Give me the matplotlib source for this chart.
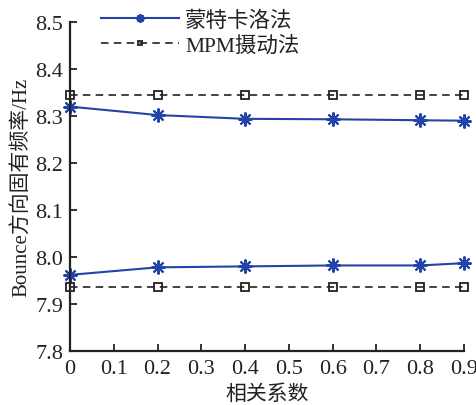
import matplotlib
matplotlib.use("Agg")
import matplotlib.pyplot as plt

x_data = [0, 0.2, 0.4, 0.6, 0.8, 0.9]
mc_upper = [8.320, 8.302, 8.294, 8.293, 8.291, 8.290]
mc_lower = [7.962, 7.978, 7.980, 7.982, 7.982, 7.987]
mpm_upper = [8.345, 8.345, 8.345, 8.345, 8.345, 8.345]
mpm_lower = [7.937, 7.937, 7.937, 7.937, 7.937, 7.937]
x_ticks = [0, 0.1, 0.2, 0.3, 0.4, 0.5, 0.6, 0.7, 0.8, 0.9]
x_tick_labels = ["0", "0.1", "0.2", "0.3", "0.4", "0.5", "0.6", "0.7", "0.8", "0.9"]
y_ticks = [7.8, 7.9, 8.0, 8.1, 8.2, 8.3, 8.4, 8.5]
y_tick_labels = ["7.8", "7.9", "8.0", "8.1", "8.2", "8.3", "8.4", "8.5"]
labels = ["蒙特卡洛法", "MPM摄动法"]

plt.rcParams['font.family'] = ['Liberation Serif', 'Noto Sans CJK SC']

fig = plt.figure(figsize=(4.77, 4.06), dpi=100)
ax = fig.add_axes([70/477, 1-352/406, (464-70)/477, (352-23)/406])

blue = '#2244a8'
dark = '#222222'
ast = (8, 2, 0)
l1, = ax.plot(x_data, mc_upper, color=blue, lw=1.5, marker=ast, ms=10, mec=blue, mew=1.5)
ax.plot(x_data, mc_lower, color=blue, lw=1.5, marker=ast, ms=10, mec=blue, mew=1.5)
l2, = ax.plot(x_data, mpm_upper, color=dark, lw=1.2, ls=(0, (4.5, 3.2)), marker='s', ms=5.5,
              mfc='none', mec=dark, mew=1.3)
ax.plot(x_data, mpm_lower, color=dark, lw=1.2, ls=(0, (4.5, 3.2)), marker='s', ms=5.5,
        mfc='none', mec=dark, mew=1.3)
for ln in ax.lines:
    ln.set_clip_on(False)

ax.set_xlim(0, 0.9)
ax.set_ylim(7.8, 8.5)
ax.set_xticks(x_ticks)
ax.set_xticklabels(x_tick_labels)
ax.set_yticks(y_ticks)
ax.set_yticklabels(y_tick_labels)
ax.tick_params(direction='in', length=5, width=1.3, labelsize=16, colors='#222222')
ax.tick_params(axis='x', pad=6)
ax.tick_params(axis='y', pad=5)
ax.spines['top'].set_visible(False)
ax.spines['right'].set_visible(False)
ax.spines['left'].set_linewidth(1.6)
ax.spines['bottom'].set_linewidth(1.6)
ax.spines['left'].set_color('#222222')
ax.spines['bottom'].set_color('#222222')

ax.set_xlabel("相关系数", fontsize=15, labelpad=4, color='#222222')
ax.set_ylabel("Bounce方向固有频率/Hz", fontsize=15, labelpad=3, color='#222222')

leg = fig.legend([l1, l2], labels, loc='upper left', bbox_to_anchor=(96/477, 1-6/406),
                 frameon=True, fontsize=15.5, handlelength=3.6, handletextpad=0.3,
                 borderaxespad=0, labelspacing=0.2, borderpad=0.25, markerscale=0.6,
                 fancybox=False)
leg.get_frame().set_edgecolor('white')
leg.get_frame().set_facecolor('white')
leg.get_frame().set_alpha(1)
for t in leg.get_texts():
    t.set_color('#222222')

fig.savefig("out.png", dpi=100)
